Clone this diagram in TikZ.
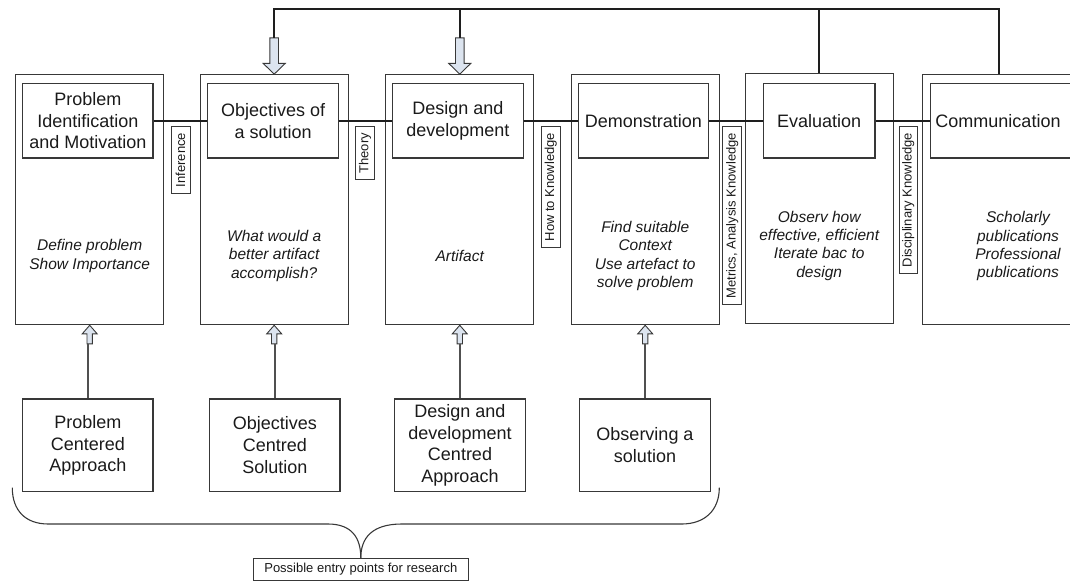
\documentclass[tikz,border=0pt]{standalone}
\usepackage{fontspec}
\setmainfont{Liberation Sans}
\definecolor{inkblack}{HTML}{1A1A1A}
\definecolor{boxgray}{HTML}{383838}
\definecolor{linkblack}{HTML}{1E1E1E}
\definecolor{feedgray}{HTML}{505050}
\definecolor{arrowfill}{HTML}{DCE4EF}
\tikzset{
  smallup/.pic={
    \draw[blockarrow] (-2.7,18.6) -- (-2.7,8.6) -- (-7.5,8.6) -- (0,0)
      -- (7.5,8.6) -- (2.7,8.6) -- (2.7,18.6) -- cycle;
    \coordinate (-base) at (0,18.6);
  },
  bigdown/.pic={
    \draw[blockarrow] (-4.3,-36.3) -- (-4.3,-10.7) -- (-11,-10.7) -- (0,0)
      -- (11,-10.7) -- (4.3,-10.7) -- (4.3,-36.3) -- cycle;
    \coordinate (-top) at (0,-36.3);
  }
}
\begin{document}
\begin{tikzpicture}[x=1pt,y=-1pt,
  every node/.style={text=inkblack},
  stage/.style={draw=boxgray, line width=1.15pt, minimum width=148pt,
    minimum height=250pt, inner sep=0pt},
  titlebox/.style={draw=boxgray, line width=1.15pt, minimum width=130.3pt,
    minimum height=74.3pt, inner sep=0pt, align=center,
    font=\fontsize{18}{21.7}\selectfont},
  titletext/.style={inner sep=0pt, font=\fontsize{18}{21.7}\selectfont},
  body/.style={align=center, inner sep=0pt,
    font=\fontsize{15.5}{18.4}\selectfont\itshape},
  tag/.style={draw=boxgray, line width=0.9pt, rotate=90, anchor=east,
    inner xsep=6.5pt, inner ysep=0pt, minimum height=18.7pt,
    font=\fontsize{13}{15}\selectfont},
  entry/.style={draw=boxgray, line width=1.15pt, minimum width=130.3pt,
    minimum height=92.7pt, inner sep=0pt, align=center,
    font=\fontsize{18}{21.8}\selectfont},
  notebox/.style={draw=boxgray, line width=0.9pt, minimum width=215pt,
    minimum height=21.7pt, inner sep=0pt, font=\fontsize{13}{15}\selectfont},
  link/.style={draw=linkblack, line width=1.6pt},
  feed/.style={draw=feedgray, line width=1.3pt},
  blockarrow/.style={draw=boxgray, line width=0.9pt, fill=arrowfill, line join=miter},
  bracepen/.style={draw=boxgray, line width=1.1pt}
]
\useasboundingbox (0,0) rectangle (1070,581);
\clip (0,0) rectangle (1070,581);

% outer stage frames
\node[stage] (o1) at (89.7,199.7) {};
\node[stage] (o2) at (274.2,199.7) {};
\node[stage] (o3) at (459.75,199.7) {};
\node[stage] (o4) at (645.2,199.7) {};
\node[stage] (o5) at (819.2,198.3) {};
\node[stage, minimum width=152.6pt] (o6) at (999,199.7) {};

% stage titles
\node[titlebox] (t1) at (87.85,120.85) {Problem\\Identification\\and Motivation};
\node[titlebox] (t2) at (273.05,120.85) {Objectives of\\a solution};
\node[titlebox] (t3) at (457.95,120.85) {Design and\\development};
\node[titlebox] (t4) at (643.3,120.85) {Demonstration};
\node[titlebox, minimum width=111.7pt] (t5) at (819.15,120.85) {Evaluation};
\node[titlebox, minimum width=150pt, anchor=west] (t6) at (930,120.85) {};
\node[titletext] (t6txt) at (998,120.85) {Communication};

% stage descriptions
\node[body] (d1) at (89.7,255.8) {Define problem\\Show Importance};
\node[body] (d2) at (274.2,255.8) {What would a\\better artifact\\accomplish?};
\node[body] (d3) at (459.75,255.7) {Artifact};
\node[body] (d4) at (645.2,256) {Find suitable\\Context\\Use artefact to\\solve problem};
\node[body] (d5) at (819.2,245.7) {Observ how\\effective, efficient\\Iterate bac to\\design};
\node[body] (d6) at (1018,246.3) {Scholarly\\publications\\Professional\\publications};

% process chain
\draw[link] (t1.east) -- (t2.west);
\draw[link] (t2.east) -- (t3.west);
\draw[link] (t3.east) -- (t4.west);
\draw[link] (t4.east) -- (t5.west);
\draw[link] (t5.east) -- (t6.west);

% knowledge tags between stages
\node[tag] (k1) at (180.6,126) {Inference};
\node[tag] (k2) at (365,126) {Theory};
\node[tag] (k3) at (550.8,126) {How to Knowledge};
\node[tag] (k4) at (732.2,126) {Metrics, Analysis Knowledge};
\node[tag] (k5) at (908.3,126) {Disciplinary Knowledge};

% iteration feedback from evaluation and communication
\pic (f1) at (o2.north) {bigdown};
\pic (f2) at (o3.north) {bigdown};
\draw[link] (f1-top) -- ++(0,-28.7) -| (o6.north);
\draw[link] (f2-top) -- ++(0,-28.7);
\draw[link] (o5.north) -- ++(0,-63.6);

% research entry points
\node[entry] (b1) at (87.85,445.35) {Problem\\Centered\\Approach};
\node[entry] (b2) at (274.85,445.35) {Objectives\\Centred\\Solution};
\node[entry] (b3) at (460,445.35) {Design and\\development\\Centred\\Approach};
\node[entry] (b4) at (645,445.35) {Observing a\\solution};

\pic (u1) at (o1.south) {smallup};
\pic (u2) at (o2.south) {smallup};
\pic (u3) at (o3.south) {smallup};
\pic (u4) at (o4.south) {smallup};
\draw[feed] (b1.north) -- (b1.north |- u1-base);
\draw[feed] (b2.north) -- (b2.north |- u2-base);
\draw[feed] (b3.north) -- (b3.north |- u3-base);
\draw[feed] (b4.north) -- (b4.north |- u4-base);

% brace gathering the entry points
\node[notebox] (note) at (360.8,569.15) {Possible entry points for research};
\coordinate (bl) at (12.3,487.7);
\coordinate (br) at (719.3,487.7);
\draw[bracepen] (bl) .. controls (12.3,510) and (25,524) .. (48.3,524)
  -- (328,524) .. controls (352,524) and (360.8,538) .. (note.north);
\draw[bracepen] (br) .. controls (719.3,510) and (705,524) .. (681.7,524)
  -- (401.7,524) .. controls (372,524) and (360.8,538) .. (note.north);
\end{tikzpicture}
\end{document}
